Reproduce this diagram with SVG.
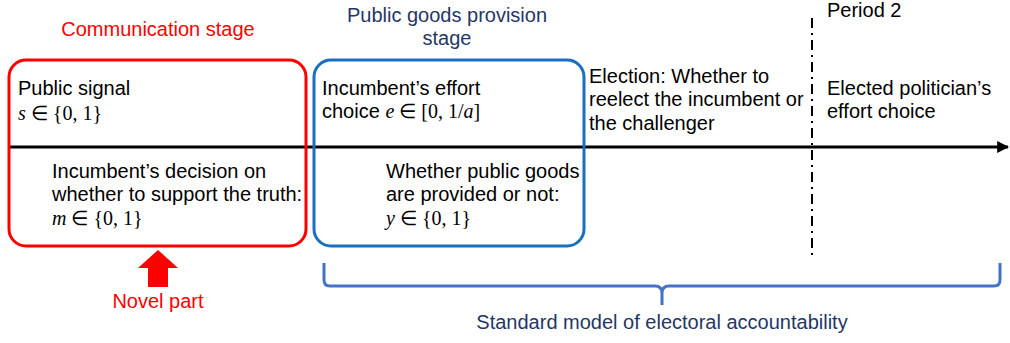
<svg xmlns="http://www.w3.org/2000/svg" width="1010" height="343" viewBox="0 0 1010 343">
  <defs>
    <style>
      .t { font-family: "Liberation Sans", Arial, sans-serif; font-size: 20px; fill: #000; }
      .m { font-family: "Liberation Serif", "Times New Roman", serif; font-size: 20px; fill: #000; }
      .i { font-style: italic; }
      .red { fill: #FF0000; }
      .navy { fill: #1F3767; }
      .box { fill: none; stroke-width: 3; }
    </style>
    <marker id="axisHead" viewBox="0 0 10 10" refX="9" refY="5" markerWidth="4" markerHeight="4" orient="auto" markerUnits="strokeWidth">
      <path d="M0,0 L10,5 L0,10 Z" fill="#000"/>
    </marker>
  </defs>
  <rect width="1010" height="343" fill="#fff"/>

  <!-- time axis, period divider and bracket -->
  <g id="connectors">
    <line x1="8" y1="147" x2="1008" y2="147" stroke="#000" stroke-width="3" marker-end="url(#axisHead)"/>
    <line x1="812" y1="18" x2="812" y2="260" stroke="#000" stroke-width="2" stroke-dasharray="10 5 2 5"/>
    <path d="M324,263 L324,280 Q324,286 330,286 L655,286 Q662,286 662,293 L662,305 M662,293 Q662,286 669,286 L994,286 Q1000,286 1000,280 L1000,263" fill="none" stroke="#4472C4" stroke-width="3"/>
  </g>

  <!-- communication stage -->
  <g id="communication">
    <text class="t red" x="158" y="36" text-anchor="middle">Communication stage</text>
    <rect class="box" x="9" y="60" width="297" height="186" rx="17" stroke="#FF0000"/>
    <text class="t" x="18" y="95">Public signal</text>
    <text class="m" x="18" y="120"><tspan class="i">s</tspan> ∈ {0, 1}</text>
    <text class="t" x="52" y="178">Incumbent’s decision on</text>
    <text class="t" x="52" y="201">whether to support the truth:</text>
    <text class="m" x="52" y="225"><tspan class="i">m</tspan> ∈ {0, 1}</text>
  </g>

  <!-- public goods provision stage -->
  <g id="provision">
    <text class="t navy" x="447" y="22" text-anchor="middle">Public goods provision</text>
    <text class="t navy" x="447" y="45" text-anchor="middle">stage</text>
    <rect class="box" x="314" y="60" width="270" height="186" rx="17" stroke="#1A6FBF"/>
    <text class="t" x="322" y="95">Incumbent’s effort</text>
    <text x="322" y="118"><tspan class="t">choice </tspan><tspan class="m"><tspan class="i">e</tspan> ∈ [0, 1/<tspan class="i">a</tspan>]</tspan></text>
    <text class="t" x="386" y="178">Whether public goods</text>
    <text class="t" x="386" y="201">are provided or not:</text>
    <text class="m" x="386" y="225"><tspan class="i">y</tspan> ∈ {0, 1}</text>
  </g>

  <!-- election -->
  <g id="election">
    <text class="t" x="589" y="83">Election: Whether to</text>
    <text class="t" x="589" y="106">reelect the incumbent or</text>
    <text class="t" x="589" y="130">the challenger</text>
  </g>

  <!-- period 2 -->
  <g id="period2">
    <text class="t" x="827" y="17">Period 2</text>
    <text class="t" x="827" y="95">Elected politician’s</text>
    <text class="t" x="827" y="118">effort choice</text>
  </g>

  <!-- novel part marker -->
  <g id="novel">
    <path d="M158,250 L178,268 L168,268 L168,287 L148,287 L148,268 L138,268 Z" fill="#FF0000"/>
    <text class="t red" x="158" y="308" text-anchor="middle">Novel part</text>
  </g>

  <!-- standard model label -->
  <g id="standard">
    <text class="t navy" x="662" y="329" text-anchor="middle">Standard model of electoral accountability</text>
  </g>
</svg>
